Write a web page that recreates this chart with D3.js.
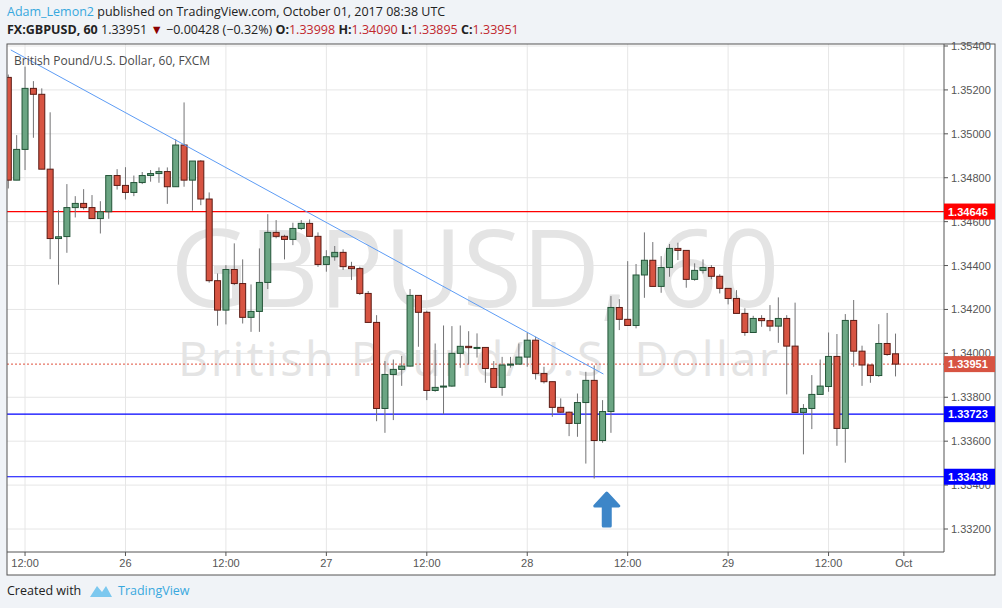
<!DOCTYPE html>
<html><head><meta charset="utf-8">
<script src="https://cdn.jsdelivr.net/npm/d3@7"></script>
<style>body{margin:0;background:#f0f3f7;font-family:"Open Sans",Arial,sans-serif}</style>
</head><body><svg id="c" width="1002" height="608"></svg>
<script>
// OHLC, 60-min bars from 25 Sep 10:00 UTC
const opens  = [1.35257,1.34789,1.34929,1.35207,1.35180,1.34839,1.34523,1.34532,1.34664,1.34683,1.34664,1.34614,1.34645,1.34810,1.34765,1.34733,1.34778,1.34810,1.34819,1.34828,
1.34759,1.34949,1.34789,1.34876,1.34703,1.34331,1.34197,1.34382,1.34318,1.34164,1.34191,1.34323,1.34551,1.34533,1.34519,1.34569,1.34592,1.34533,1.34405,1.34440,
1.34460,1.34395,1.34386,1.34273,1.34141,1.33749,1.33904,1.33927,1.33942,1.34264,1.34187,1.33831,1.33848,1.33851,1.34000,1.34032,1.34026,1.34027,1.33931,1.33845,
1.33947,1.33951,1.33983,1.34060,1.33908,1.33871,1.33754,1.33732,1.33681,1.33776,1.33877,1.33603,1.33735,1.34209,1.34155,1.34127,1.34357,1.34424,1.34305,1.34391,
1.34478,1.34469,1.34337,1.34378,1.34391,1.34351,1.34296,1.34250,1.34182,1.34095,1.34159,1.34149,1.34124,1.34159,1.34033,1.33731,1.33749,1.33813,1.33849,1.33986,
1.33658,1.34150,1.34010,1.33947,1.33899,1.34045,1.33998];
const highs  = [1.35270,1.34994,1.35306,1.35240,1.35207,1.35098,1.34652,1.34771,1.34716,1.34748,1.34721,1.34693,1.34810,1.34839,1.34848,1.34810,1.34826,1.34835,1.34847,1.34847,
1.34975,1.35143,1.34876,1.34880,1.34733,1.34364,1.34402,1.34501,1.34428,1.34314,1.34478,1.34634,1.34607,1.34540,1.34595,1.34607,1.34610,1.34551,1.34470,1.34489,
1.34474,1.34417,1.34395,1.34284,1.34174,1.33965,1.33972,1.33988,1.34293,1.34264,1.34194,1.34045,1.34127,1.34124,1.34127,1.34101,1.34091,1.34027,1.33965,1.33984,
1.33984,1.34045,1.34094,1.34076,1.33939,1.33871,1.33795,1.33735,1.33817,1.33916,1.33945,1.33787,1.34261,1.34247,1.34420,1.34407,1.34551,1.34507,1.34443,1.34498,
1.34504,1.34469,1.34410,1.34428,1.34402,1.34360,1.34296,1.34288,1.34205,1.34171,1.34174,1.34220,1.34255,1.34174,1.34231,1.33769,1.33901,1.33972,1.34095,1.34088,
1.34179,1.34243,1.34035,1.33947,1.34133,1.34184,1.34090];
const lows   = [1.34751,1.34789,1.34835,1.34982,1.34839,1.34429,1.34313,1.34458,1.34619,1.34655,1.34614,1.34546,1.34613,1.34746,1.34701,1.34716,1.34771,1.34782,1.34777,1.34681,
1.34759,1.34759,1.34650,1.34675,1.34322,1.34126,1.34132,1.34311,1.34136,1.34098,1.34098,1.34293,1.34524,1.34428,1.34493,1.34562,1.34533,1.34394,1.34372,1.34422,
1.34380,1.34334,1.34266,1.34141,1.33691,1.33638,1.33696,1.33852,1.33940,1.34030,1.33787,1.33825,1.33723,1.33848,1.33934,1.33950,1.33981,1.33866,1.33845,1.33807,
1.33935,1.33951,1.33939,1.33881,1.33863,1.33711,1.33730,1.33623,1.33620,1.33498,1.33430,1.33593,1.33638,1.34106,1.34127,1.34114,1.34253,1.34305,1.34276,1.34349,
1.34425,1.34299,1.34331,1.34364,1.34338,1.34273,1.34223,1.34182,1.34080,1.34095,1.34121,1.34101,1.34048,1.33813,1.33731,1.33540,1.33655,1.33813,1.33825,1.33579,
1.33502,1.33939,1.33852,1.33866,1.33893,1.33989,1.33895];
const closes = [1.34789,1.34929,1.35207,1.35180,1.34839,1.34523,1.34531,1.34664,1.34683,1.34664,1.34614,1.34645,1.34810,1.34765,1.34733,1.34778,1.34810,1.34819,1.34828,1.34759,
1.34949,1.34789,1.34876,1.34703,1.34331,1.34197,1.34382,1.34318,1.34164,1.34191,1.34323,1.34551,1.34533,1.34519,1.34569,1.34592,1.34533,1.34405,1.34440,1.34460,
1.34395,1.34386,1.34273,1.34141,1.33749,1.33904,1.33927,1.33942,1.34264,1.34187,1.33831,1.33845,1.33851,1.34000,1.34032,1.34026,1.34027,1.33931,1.33845,1.33947,
1.33951,1.33983,1.34060,1.33908,1.33871,1.33754,1.33732,1.33681,1.33776,1.33877,1.33603,1.33735,1.34209,1.34155,1.34127,1.34357,1.34424,1.34305,1.34391,1.34478,
1.34469,1.34337,1.34378,1.34391,1.34351,1.34296,1.34250,1.34182,1.34095,1.34159,1.34149,1.34124,1.34159,1.34033,1.33731,1.33749,1.33813,1.33851,1.33986,1.33658,
1.34150,1.34010,1.33947,1.33899,1.34045,1.33995,1.33951];
const timeTickIdx = [2,14,26,38,50,62,74,86,98,107];
const timeTickLabels = ["12:00","26","12:00","27","12:00","28","12:00","29","12:00","Oct"];
const priceTicks = [1.332,1.334,1.336,1.338,1.340,1.342,1.344,1.346,1.348,1.350,1.352,1.354];
const levels = [{v:1.34646,c:"#ff0000"},{v:1.33723,c:"#0000ff"},{v:1.33438,c:"#0000ff"}];
const lastPrice = 1.33951;
const trend = [[0.3,1.35382],[71.1,1.33906]];
const arrowAt = [71.5,1.3325];

const svg=d3.select("#c");
const L=7,R=944,T=44,B=552;
const x=d3.scaleLinear().domain([0,1]).range([8.3,16.67]);
const y=d3.scaleLinear().domain([1.354,1.332]).range([46,529]);

svg.append("rect").attr("x",L).attr("y",T).attr("width",995-L).attr("height",575-T).attr("fill","#fff");
svg.append("clipPath").attr("id","cp").append("rect").attr("x",L).attr("y",T).attr("width",R-L).attr("height",B-T);
const g=svg.append("g").attr("clip-path","url(#cp)");
priceTicks.forEach(p=>g.append("line").attr("x1",L).attr("x2",R).attr("y1",y(p)).attr("y2",y(p)).attr("stroke","#e6e6e6"));
timeTickIdx.forEach(i=>g.append("line").attr("y1",T).attr("y2",B).attr("x1",x(i)).attr("x2",x(i)).attr("stroke","#e6e6e6"));
g.append("text").attr("x",475).attr("y",307).attr("text-anchor","middle").attr("font-size",108).attr("fill","#e4e4e4").attr("font-family","'Open Sans',sans-serif").text("GBPUSD, 60");
g.append("text").attr("x",478).attr("y",376).attr("text-anchor","middle").attr("font-size",47).attr("textLength",600).attr("lengthAdjust","spacing").attr("fill","#e4e4e4").attr("font-family","'Open Sans',sans-serif").text("British Pound/U.S. Dollar");
levels.forEach(l=>g.append("line").attr("x1",L).attr("x2",R).attr("y1",y(l.v)).attr("y2",y(l.v)).attr("stroke",l.c).attr("stroke-width",1.2));
g.append("line").attr("x1",L).attr("x2",R).attr("y1",y(lastPrice)).attr("y2",y(lastPrice)).attr("stroke","#e0513d").attr("stroke-dasharray","2,2");
const cg=g.append("g");
opens.forEach((o,i)=>{
  const c=closes[i],up=c>=o,cx=x(i);
  cg.append("line").attr("x1",cx).attr("x2",cx).attr("y1",y(highs[i])).attr("y2",y(lows[i])).attr("stroke","#737375");
  const y0=y(Math.max(o,c)),h=Math.max(1,y(Math.min(o,c))-y0);
  cg.append("rect").attr("x",cx-3).attr("y",y0).attr("width",6).attr("height",h)
    .attr("fill",up?"#6ba583":"#d75442").attr("stroke",up?"#225437":"#5b1a13").attr("stroke-width",1);
});
g.append("line").attr("x1",x(trend[0][0])).attr("y1",y(trend[0][1])).attr("x2",x(trend[1][0])).attr("y2",y(trend[1][1])).attr("stroke","#5d9cf5").attr("stroke-width",1);
const ax=x(arrowAt[0]),ay=y(arrowAt[1]);
g.append("path").attr("d",`M${ax},${ay-25} L${ax+12},${ay-12} L${ax+3.5},${ay-12} L${ax+3.5},${ay+8} L${ax-3.5},${ay+8} L${ax-3.5},${ay-12} L${ax-12},${ay-12} Z`)
 .attr("fill","#3d86c8").attr("stroke","#3d86c8").attr("stroke-width",3).attr("stroke-linejoin","round");
g.append("text").attr("x",14).attr("y",65).attr("font-size",12).attr("fill","#4a4a4a").text("British Pound/U.S. Dollar, 60, FXCM");

svg.append("line").attr("x1",R).attr("x2",R).attr("y1",T).attr("y2",B).attr("stroke","#555");
svg.append("line").attr("x1",L).attr("x2",R).attr("y1",B).attr("y2",B).attr("stroke","#555");
svg.append("rect").attr("x",L).attr("y",T).attr("width",995-L).attr("height",575-T).attr("fill","none").attr("stroke","#555");
priceTicks.forEach(p=>{
  svg.append("line").attr("x1",R).attr("x2",R+4).attr("y1",y(p)).attr("y2",y(p)).attr("stroke","#555");
  svg.append("text").attr("x",951).attr("y",y(p)+4).attr("font-size",11).attr("fill","#555").attr("font-family","Arial,'Liberation Sans',sans-serif").text(p.toFixed(5));
});
timeTickIdx.forEach((i,k)=>{
  svg.append("line").attr("x1",x(i)).attr("x2",x(i)).attr("y1",B).attr("y2",B+4).attr("stroke","#555");
  svg.append("text").attr("x",x(i)).attr("y",567).attr("text-anchor","middle").attr("font-size",11).attr("fill","#555").attr("font-family","Arial,'Liberation Sans',sans-serif").text(timeTickLabels[k]);
});
[{v:levels[0].v,c:"#ff0000"},{v:lastPrice,c:"#d75442"},{v:levels[1].v,c:"#0000ff"},{v:levels[2].v,c:"#0000ff"}].forEach(l=>{
  svg.append("rect").attr("x",R).attr("y",y(l.v)-8).attr("width",51).attr("height",16).attr("fill",l.c);
  svg.append("text").attr("x",948).attr("y",y(l.v)+4).attr("font-size",11).attr("font-weight","bold").attr("fill","#fff").attr("font-family","Arial,'Liberation Sans',sans-serif").text(l.v.toFixed(5));
});
const h1=svg.append("text").attr("x",7).attr("y",16).attr("font-size",12.5).attr("fill","#222");
h1.append("tspan").attr("fill","#38a8de").text("Adam_Lemon2");
h1.append("tspan").text(" published on TradingView.com, October 01, 2017 08:38 UTC");
const h2=svg.append("text").attr("x",7).attr("y",34).attr("font-size",12.5).attr("fill","#222");
h2.append("tspan").attr("font-weight","bold").text("FX:GBPUSD, 60");
h2.append("tspan").text(" 1.33951 ");
h2.append("tspan").attr("fill","#8b0000").text("▼");
h2.append("tspan").text(" −0.00428 (−0.32%) ");
[["O:","1.33998"],["H:","1.34090"],["L:","1.33895"],["C:","1.33951"]].forEach(([a,b])=>{
  h2.append("tspan").attr("font-weight","bold").text(a);
  h2.append("tspan").attr("fill","#c0272d").text(b+" ");
});
svg.append("text").attr("x",7).attr("y",595).attr("font-size",12.5).attr("fill","#222").text("Created with");
svg.append("path").attr("d","M90,597 L97,586 L102,592 L106,586 L112,597 Z").attr("fill","#7cc8ef");
svg.append("text").attr("x",118).attr("y",595).attr("font-size",12.5).attr("fill","#38a8de").text("TradingView");
</script></body></html>
